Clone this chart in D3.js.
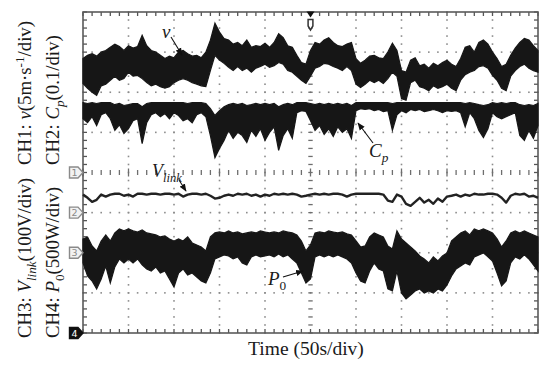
<!DOCTYPE html>
<html>
<head>
<meta charset="utf-8">
<script src="https://cdnjs.cloudflare.com/ajax/libs/d3/7.8.5/d3.min.js"></script>
<style>
  body { margin: 0; background: #fff; }
  svg { display: block; font-family: "Liberation Serif", "Times New Roman", serif; }
</style>
</head>
<body>
<svg id="canvas" width="550" height="367"></svg>
<script>
// one sample every 0.1 div (50 s/div)
const samplePeriod = 5;

// CH1: wind speed v (m/s), upper / lower edge of the noisy trace
const vHigh = [
  14.2, 14.6, 14.8, 14.5, 15.0, 15.2, 15.6, 16.0, 15.7, 15.2,
  15.8, 15.5, 15.7, 17.1, 15.8, 15.2, 15.0, 14.6, 14.2, 14.5,
  14.3, 15.0, 15.2, 14.8, 14.5, 14.6, 14.3, 15.0, 16.5, 18.6,
  17.5, 16.7, 16.5, 16.0, 16.2, 15.8, 16.5, 15.6, 15.8, 15.7,
  16.1, 15.6, 16.2, 17.3, 16.8, 15.8, 15.6, 14.6, 13.7, 13.5,
  15.2, 16.2, 16.0, 16.5, 16.8, 16.2, 15.8, 15.7, 16.0, 16.2,
  14.2, 13.6, 14.0, 14.5, 14.6, 14.3, 14.2, 15.0, 16.1, 15.2,
  12.7, 12.5, 14.0, 14.3, 13.3, 13.5, 13.0, 13.6, 13.3, 13.7,
  14.0, 13.5, 13.2, 14.2, 15.6, 15.8, 15.0, 16.2, 16.5, 16.0,
  15.0, 14.2, 13.2, 13.5, 14.6, 15.5, 16.2, 16.7, 16.5, 15.8,
  15.2
];
const vLow = [
  11.1, 10.5, 10.0, 9.6, 10.8, 11.0, 11.5, 12.0, 11.5, 11.7,
  12.5, 12.0, 12.1, 11.7, 11.2, 10.8, 11.0, 10.7, 10.5, 10.7,
  11.2, 11.5, 11.7, 11.5, 11.2, 11.0, 10.8, 10.7, 12.7, 14.6,
  14.0, 13.6, 13.1, 12.7, 13.2, 12.7, 13.0, 12.5, 13.0, 13.2,
  13.5, 13.1, 13.3, 13.7, 13.5, 12.7, 12.5, 12.0, 11.5, 11.1,
  12.0, 13.0, 13.2, 13.6, 13.5, 13.2, 13.0, 12.7, 13.2, 12.7,
  11.0, 10.6, 11.0, 11.5, 11.2, 11.5, 11.1, 11.7, 12.5, 12.0,
  9.2, 9.0, 11.2, 11.5, 10.7, 10.5, 10.2, 10.8, 10.5, 10.7,
  11.0, 10.5, 10.2, 11.5, 12.2, 12.5, 12.7, 13.2, 13.3, 13.0,
  12.1, 11.5, 10.5, 10.2, 12.0, 12.7, 13.2, 13.5, 13.0, 12.7,
  12.5
];

// CH2: power coefficient Cp
const cpHigh = [
  0.274, 0.272, 0.274, 0.272, 0.274, 0.274, 0.274, 0.269, 0.272, 0.267,
  0.269, 0.272, 0.272, 0.264, 0.272, 0.274, 0.274, 0.274, 0.274, 0.274,
  0.274, 0.274, 0.274, 0.272, 0.274, 0.274, 0.274, 0.272, 0.259, 0.242,
  0.254, 0.264, 0.269, 0.272, 0.269, 0.272, 0.267, 0.269, 0.272, 0.269,
  0.272, 0.269, 0.272, 0.264, 0.269, 0.272, 0.269, 0.274, 0.274, 0.274,
  0.272, 0.269, 0.272, 0.269, 0.272, 0.269, 0.272, 0.269, 0.272, 0.267,
  0.274, 0.274, 0.274, 0.274, 0.274, 0.274, 0.274, 0.274, 0.272, 0.274,
  0.274, 0.274, 0.274, 0.274, 0.274, 0.274, 0.274, 0.274, 0.274, 0.274,
  0.274, 0.274, 0.274, 0.274, 0.272, 0.274, 0.272, 0.269, 0.267, 0.269,
  0.274, 0.272, 0.274, 0.272, 0.274, 0.274, 0.269, 0.267, 0.269, 0.267,
  0.272
];
const cpLow = [
  0.234, 0.224, 0.239, 0.217, 0.244, 0.249, 0.234, 0.205, 0.219, 0.197,
  0.209, 0.229, 0.234, 0.172, 0.224, 0.244, 0.249, 0.239, 0.247, 0.234,
  0.249, 0.242, 0.229, 0.234, 0.224, 0.244, 0.249, 0.239, 0.192, 0.137,
  0.160, 0.180, 0.205, 0.185, 0.200, 0.192, 0.175, 0.205, 0.190, 0.209,
  0.180, 0.200, 0.214, 0.155, 0.192, 0.209, 0.185, 0.249, 0.254, 0.252,
  0.229, 0.205, 0.217, 0.195, 0.209, 0.190, 0.214, 0.200, 0.209, 0.185,
  0.254, 0.259, 0.257, 0.259, 0.254, 0.257, 0.252, 0.254, 0.205, 0.244,
  0.254, 0.249, 0.257, 0.254, 0.257, 0.252, 0.254, 0.257, 0.254, 0.249,
  0.254, 0.252, 0.254, 0.249, 0.214, 0.249, 0.234, 0.205, 0.187, 0.209,
  0.249, 0.239, 0.234, 0.239, 0.244, 0.249, 0.192, 0.180, 0.205, 0.185,
  0.217
];

// CH3: DC link voltage Vlink (V)
const vlink = [
  145, 137, 127, 132, 145, 140, 145, 147, 147, 142,
  145, 140, 147, 147, 145, 147, 147, 145, 147, 147,
  145, 147, 140, 145, 147, 147, 145, 147, 142, 135,
  137, 142, 145, 142, 147, 145, 147, 142, 145, 140,
  145, 142, 147, 145, 147, 145, 147, 145, 140, 142,
  145, 147, 145, 147, 145, 147, 147, 145, 140, 145,
  147, 147, 147, 147, 147, 147, 145, 130, 127, 145,
  140, 122, 117, 127, 137, 125, 132, 122, 135, 127,
  140, 142, 145, 140, 145, 142, 147, 145, 145, 147,
  147, 145, 137, 125, 142, 147, 145, 147, 140, 142,
  137
];

// CH4: output power P0 (W)
const pHigh = [
  1172, 1197, 1085, 1023, 1147, 1222, 1147, 1247, 1297, 1272,
  1297, 1272, 1259, 1284, 1247, 1235, 1222, 1197, 1210, 1172,
  1147, 1172, 1147, 1197, 1122, 1097, 1072, 1023, 1197, 1247,
  1259, 1247, 1272, 1247, 1259, 1235, 1247, 1259, 1247, 1272,
  1259, 1247, 1259, 1247, 1272, 1259, 1247, 1222, 1147, 1023,
  1097, 1247, 1259, 1247, 1272, 1259, 1247, 1259, 1235, 1222,
  1147, 1072, 1085, 1197, 1247, 1222, 1197, 1085, 1047, 1272,
  1172, 1122, 1072, 1023, 960, 923, 873, 948, 898, 960,
  998, 1147, 1197, 1247, 1272, 1222, 1297, 1272, 1297, 1272,
  1247, 1172, 1072, 1147, 1247, 1272, 1247, 1272, 1247, 1222,
  1197
];
const pLow = [
  873, 711, 648, 549, 673, 835, 624, 823, 923, 873,
  923, 873, 923, 848, 798, 773, 823, 748, 773, 673,
  574, 748, 798, 723, 748, 698, 648, 624, 748, 923,
  948, 973, 960, 923, 948, 873, 848, 948, 973, 948,
  960, 973, 948, 985, 948, 973, 923, 873, 748, 624,
  673, 948, 973, 948, 973, 948, 973, 948, 923, 873,
  748, 648, 624, 773, 873, 798, 773, 549, 524, 773,
  499, 424, 474, 524, 549, 499, 524, 499, 549, 524,
  599, 711, 798, 835, 873, 848, 948, 973, 998, 948,
  898, 748, 586, 648, 873, 948, 923, 973, 923, 848,
  773
];

// screen layout
const plot = { left: 83, right: 538, top: 12, bottom: 333 };
const ink = "#181818";
const gridGrey = "#8c8c8c";

const svg = d3.select("#canvas");

// soft edges, like the photographed scope screen
const defs = svg.append("defs");
defs.append("filter")
  .attr("id", "soft")
  .attr("x", "-2%").attr("y", "-10%").attr("width", "104%").attr("height", "120%")
  .append("feGaussianBlur")
  .attr("stdDeviation", 0.7);

// time axis (10 div x 50 s/div) and the graticule in divisions
const x = d3.scaleLinear().domain([0, 500]).range([plot.left, plot.right]);
const xDiv = d3.scaleLinear().domain([0, 10]).range([plot.left, plot.right]);
const yDiv = d3.scaleLinear().domain([-4, 4]).range([plot.bottom, plot.top]);

// a channel scale: ground marker position (div) and units per division
const channelScale = (ground, perDiv) =>
  d3.scaleLinear()
    .domain([(-4 - ground) * perDiv, (4 - ground) * perDiv])
    .range([plot.bottom, plot.top]);

const yV = channelScale(0, 5);
const yCp = channelScale(-1, 0.1);
const yVlink = channelScale(-2, 100);
const yP = channelScale(-4, 500);

// ---------- graticule ----------
const grid = svg.append("g");
const minorX = d3.range(0, 50.5).map((m) => m / 5);
const minorY = d3.range(0, 40.5).map((m) => -4 + m / 5);

// dotted vertical and horizontal lines
const dots = [];
[1, 2, 3, 4, 6, 7, 8, 9].forEach((k) =>
  minorY.forEach((m) => dots.push([xDiv(k), yDiv(m)]))
);
[-3, -2, -1, 1, 2, 3].forEach((j) =>
  minorX.forEach((m) => dots.push([xDiv(m), yDiv(j)]))
);
grid.selectAll("rect.dot")
  .data(dots)
  .enter()
  .append("rect")
  .attr("class", "dot")
  .attr("x", (d) => d[0] - 0.8)
  .attr("y", (d) => d[1] - 0.8)
  .attr("width", 1.6)
  .attr("height", 1.6)
  .attr("fill", gridGrey);

// centre cross with minor ticks
grid.selectAll("line.cx")
  .data(minorX)
  .enter()
  .append("line")
  .attr("x1", (d) => xDiv(d))
  .attr("x2", (d) => xDiv(d))
  .attr("y1", (d) => yDiv(0) - (d % 1 === 0 ? 4 : 2.5))
  .attr("y2", (d) => yDiv(0) + (d % 1 === 0 ? 4 : 2.5))
  .attr("stroke", "#6e6e6e")
  .attr("stroke-width", 1.3);

grid.selectAll("line.cy")
  .data(minorY)
  .enter()
  .append("line")
  .attr("x1", xDiv(5) - 2.2)
  .attr("x2", xDiv(5) + 2.2)
  .attr("y1", (d) => yDiv(d))
  .attr("y2", (d) => yDiv(d))
  .attr("stroke", "#6e6e6e")
  .attr("stroke-width", 1.3);

// ticks on the four edges, pointing inward
const edgeTicks = [];
minorX.forEach((m) => {
  edgeTicks.push([xDiv(m), plot.top, xDiv(m), plot.top + 4]);
  edgeTicks.push([xDiv(m), plot.bottom, xDiv(m), plot.bottom - 4]);
});
minorY.forEach((m) => {
  edgeTicks.push([plot.left, yDiv(m), plot.left + 4, yDiv(m)]);
  edgeTicks.push([plot.right, yDiv(m), plot.right - 4, yDiv(m)]);
});
grid.selectAll("line.edge")
  .data(edgeTicks)
  .enter()
  .append("line")
  .attr("x1", (d) => d[0])
  .attr("y1", (d) => d[1])
  .attr("x2", (d) => d[2])
  .attr("y2", (d) => d[3])
  .attr("stroke", "#555")
  .attr("stroke-width", 1.3);

grid.append("rect")
  .attr("x", plot.left)
  .attr("y", plot.top)
  .attr("width", plot.right - plot.left)
  .attr("height", plot.bottom - plot.top)
  .attr("fill", "none")
  .attr("stroke", "#5a5a5a")
  .attr("stroke-width", 1.6);

// ---------- traces ----------
const traces = svg.append("g").attr("filter", "url(#soft)");

const band = (high, low, yScale) => {
  const rows = high.map((h, i) => ({ t: i * samplePeriod, hi: h, lo: low[i] }));
  const area = d3.area()
    .x((d) => x(d.t))
    .y0((d) => yScale(d.lo))
    .y1((d) => yScale(d.hi));
  traces.append("path")
    .datum(rows)
    .attr("d", area)
    .attr("fill", ink)
    .attr("stroke", ink)
    .attr("stroke-width", 1.2)
    .attr("stroke-linejoin", "miter");
};

band(vHigh, vLow, yV);
band(cpHigh, cpLow, yCp);
band(pHigh, pLow, yP);

traces.append("path")
  .datum(vlink.map((v, i) => ({ t: i * samplePeriod, v })))
  .attr("d", d3.line().x((d) => x(d.t)).y((d) => yVlink(d.v)))
  .attr("fill", "none")
  .attr("stroke", "#222")
  .attr("stroke-width", 2.4)
  .attr("stroke-linejoin", "round");

// ---------- channel ground markers and trigger ----------
const markers = [
  { id: "1", ground: 0 },
  { id: "2", ground: -1 },
  { id: "3", ground: -2 },
  { id: "4", ground: -4 }
];
const mk = svg.selectAll("g.marker")
  .data(markers)
  .enter()
  .append("g")
  .attr("transform", (d) => `translate(0,${yDiv(d.ground)})`);
mk.append("path")
  .attr("d", "M69.5,-5.5H78L83,0L78,5.5H69.5Z")
  .attr("fill", (d) => (d.id === "4" ? "#111" : "#f2f2f2"))
  .attr("stroke", (d) => (d.id === "4" ? "#111" : "#8a8a8a"))
  .attr("stroke-width", 1.4);
mk.append("text")
  .attr("x", 74.5)
  .attr("y", 3.5)
  .attr("text-anchor", "middle")
  .attr("font-family", "DejaVu Sans, sans-serif")
  .attr("font-size", 9.5)
  .attr("fill", (d) => (d.id === "4" ? "#fff" : "#8a8a8a"))
  .text((d) => d.id);

const trig = svg.append("g").attr("transform", `translate(${xDiv(5)},${plot.top})`);
trig.append("path").attr("d", "M-4,-0.5H4L0,5.5Z").attr("fill", "#111");
trig.append("path")
  .attr("d", "M-2.4,7.5H2.4V14L0,18L-2.4,14Z")
  .attr("fill", "#fff")
  .attr("stroke", "#333")
  .attr("stroke-width", 1.5);

// ---------- text ----------
const drawText = (g, parts, size) => {
  const text = g.append("text").attr("font-size", size).attr("fill", "#1a1a1a");
  let shift = 0;
  parts.forEach((p) => {
    const part = typeof p === "string" ? { t: p } : p;
    const target = part.sup ? -7 : part.sub ? 5 : 0;
    text.append("tspan")
      .attr("dy", target - shift)
      .attr("font-style", part.it ? "italic" : null)
      .attr("font-size", part.sup || part.sub ? size * 0.7 : null)
      .text(part.t);
    shift = target;
  });
  return text;
};

const rotated = (px, py) =>
  svg.append("g").attr("transform", `translate(${px},${py}) rotate(-90)`);

drawText(rotated(31, 165), ["CH1: ", { t: "v", it: true }, "(5m·s", { t: "-1", sup: true }, "/div)"], 18.8);
drawText(rotated(59, 165), ["CH2: ", { t: "C", it: true }, { t: "p", it: true, sub: true }, "(0.1/div)"], 18.8);
drawText(rotated(31, 338), ["CH3: ", { t: "V", it: true }, { t: "link", it: true, sub: true }, "(100V/div)"], 18.8);
drawText(rotated(59, 338), ["CH4: ", { t: "P", it: true }, { t: "0", sub: true }, "(500W/div)"], 18.8);

svg.append("text")
  .attr("x", 306)
  .attr("y", 355)
  .attr("text-anchor", "middle")
  .attr("font-size", 19.5)
  .attr("fill", "#1a1a1a")
  .text("Time (50s/div)");

// ---------- annotations ----------
defs.append("marker")
  .attr("id", "head")
  .attr("viewBox", "0 0 10 10")
  .attr("refX", 9)
  .attr("refY", 5)
  .attr("markerWidth", 7)
  .attr("markerHeight", 7)
  .attr("orient", "auto")
  .append("path")
  .attr("d", "M0,1L10,5L0,9Z")
  .attr("fill", "#111");

const arrow = (x1, y1, x2, y2) =>
  svg.append("line")
    .attr("x1", x1).attr("y1", y1).attr("x2", x2).attr("y2", y2)
    .attr("stroke", "#111")
    .attr("stroke-width", 1.1)
    .attr("marker-end", "url(#head)");

drawText(svg.append("g").attr("transform", "translate(162,38)"), [{ t: "v", it: true }], 19);
arrow(171, 37, 182, 55);

drawText(svg.append("g").attr("transform", "translate(369,157)"), [{ t: "C", it: true }, { t: "p", it: true, sub: true }], 19);
arrow(373, 143, 358, 123);

drawText(svg.append("g").attr("transform", "translate(152,177)"), [{ t: "V", it: true }, { t: "link", it: true, sub: true }], 18);
arrow(179, 180, 186, 191);

drawText(svg.append("g").attr("transform", "translate(268,285)"), [{ t: "P", it: true }, { t: "0", sub: true }], 19);
arrow(283, 277, 303, 271);
</script>
</body>
</html>
